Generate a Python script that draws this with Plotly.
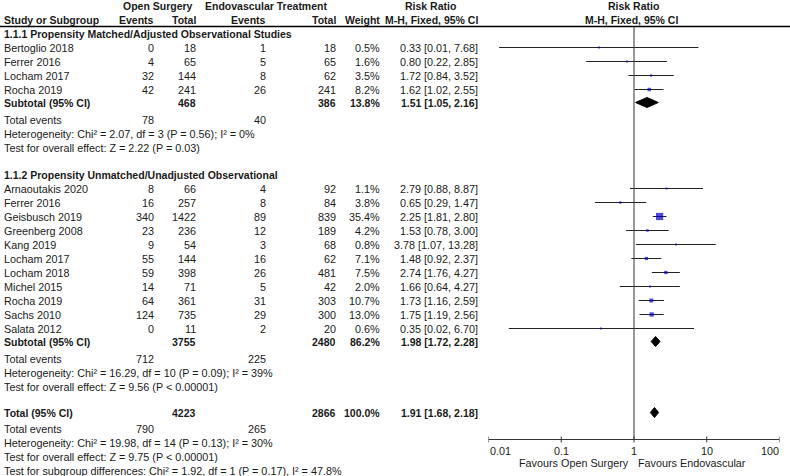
import numpy as np
import plotly.graph_objects as go

# ---- data ----
g1_title = "1.1.1 Propensity Matched/Adjusted Observational Studies"
g1_names = ["Bertoglio 2018", "Ferrer 2016", "Locham 2017", "Rocha 2019"]
g1_open_events = [0, 4, 32, 42]
g1_open_total = [18, 65, 144, 241]
g1_endo_events = [1, 5, 8, 26]
g1_endo_total = [18, 65, 62, 241]
g1_weight = [0.5, 1.6, 3.5, 8.2]
g1_rr = [0.33, 0.80, 1.72, 1.62]
g1_lo = [0.014, 0.22, 0.84, 1.02]
g1_hi = [7.68, 2.85, 3.52, 2.55]

g2_title = "1.1.2 Propensity Unmatched/Unadjusted Observational"
g2_names = ["Arnaoutakis 2020", "Ferrer 2016", "Geisbusch 2019", "Greenberg 2008", "Kang 2019",
            "Locham 2017", "Locham 2018", "Michel 2015", "Rocha 2019", "Sachs 2010", "Salata 2012"]
g2_open_events = [8, 16, 340, 23, 9, 55, 59, 14, 64, 124, 0]
g2_open_total = [66, 257, 1422, 236, 54, 144, 398, 71, 361, 735, 11]
g2_endo_events = [4, 8, 89, 12, 3, 16, 26, 5, 31, 29, 2]
g2_endo_total = [92, 84, 839, 189, 68, 62, 481, 42, 303, 300, 20]
g2_weight = [1.1, 3.8, 35.4, 4.2, 0.8, 7.1, 7.5, 2.0, 10.7, 13.0, 0.6]
g2_rr = [2.79, 0.65, 2.25, 1.53, 3.78, 1.48, 2.74, 1.66, 1.73, 1.75, 0.35]
g2_lo = [0.88, 0.29, 1.81, 0.78, 1.07, 0.92, 1.76, 0.64, 1.16, 1.19, 0.019]
g2_hi = [8.87, 1.47, 2.80, 3.00, 13.28, 2.37, 4.27, 4.27, 2.59, 2.56, 6.70]

# subtotal / total: open total, endo total, weight, rr, lo, hi, open events, endo events
sub1 = [468, 386, 13.8, 1.51, 1.05, 2.16, 78, 40]
sub2 = [3755, 2480, 86.2, 1.98, 1.72, 2.28, 712, 225]
overall = [4223, 2866, 100.0, 1.91, 1.68, 2.18, 790, 265]

sub1_stats = ["Heterogeneity: Chi\u00b2 = 2.07, df = 3 (P = 0.56); I\u00b2 = 0%",
              "Test for overall effect: Z = 2.22 (P = 0.03)"]
sub2_stats = ["Heterogeneity: Chi\u00b2 = 16.29, df = 10 (P = 0.09); I\u00b2 = 39%",
              "Test for overall effect: Z = 9.56 (P < 0.00001)"]
overall_stats = ["Heterogeneity: Chi\u00b2 = 19.98, df = 14 (P = 0.13); I\u00b2 = 30%",
                 "Test for overall effect: Z = 9.75 (P < 0.00001)",
                 "Test for subgroup differences: Chi\u00b2 = 1.92, df = 1 (P = 0.17), I\u00b2 = 47.8%"]

axis_ticks = [0.01, 0.1, 1, 10, 100]
axis_ticklabels = ["0.01", "0.1", "1", "10", "100"]
favours_left = "Favours Open Surgery"
favours_right = "Favours Endovascular"

# ---- layout (pixel coordinates) ----
W, H = 790, 476
FONT = "Arial, Liberation Sans, sans-serif"
TXT = "#1a1a1a"
NAME_X, OPEN_EV, OPEN_TOT, ENDO_EV, ENDO_TOT, WEIGHT, RR_X = 3, 155, 197, 267, 337, 381, 479
FOREST_L, FOREST_R = 488.5, 779.5
STEP = 14

annots = []


def txt(x, y, s, anchor="right", bold=False, ref="paper"):
    annots.append(dict(x=x / W if ref == "paper" else x, y=y, xref=ref, yref="y",
                       text="<b>%s</b>" % s if bold else s, showarrow=False,
                       xanchor=anchor, yanchor="middle", borderpad=0,
                       font=dict(family=FONT, size=10.5 if bold else 10.8, color=TXT)))


fig = go.Figure()

# header
txt(158, 5, "Open Surgery", "center", True)
txt(266, 5, "Endovascular Treatment", "center", True)
txt(430, 5, "Risk Ratio", "center", True)
txt(633, 5, "Risk Ratio", "center", True)
txt(NAME_X, 19, "Study or Subgroup", "left", True)
txt(OPEN_EV, 19, "Events", bold=True)
txt(OPEN_TOT, 19, "Total", bold=True)
txt(ENDO_EV, 19, "Events", bold=True)
txt(ENDO_TOT, 19, "Total", bold=True)
txt(WEIGHT, 19, "Weight", bold=True)
txt(RR_X, 19, "M-H, Fixed, 95% CI", bold=True)
txt(631, 19, "M-H, Fixed, 95% CI", "center", True)

ci_x, ci_y, sq_x, sq_y, sq_s = [], [], [], [], []


def diamond(y, s):
    fig.add_trace(go.Scatter(x=[s[4], s[3], s[5], s[3], s[4]], y=[y, y - 5, y, y + 5, y],
                             xaxis="x2", mode="lines", fill="toself", fillcolor="black",
                             line=dict(color="black", width=1), hoverinfo="skip"))


def group(y, title, names, oe, ot, ee, et, w, rr, lo, hi, sub, stats):
    txt(NAME_X, y, title, "left", True)
    for i in range(len(names)):
        y += STEP
        txt(NAME_X, y, names[i], "left")
        txt(OPEN_EV, y, str(oe[i]))
        txt(OPEN_TOT, y, str(ot[i]))
        txt(ENDO_EV, y, str(ee[i]))
        txt(ENDO_TOT, y, str(et[i]))
        txt(WEIGHT, y, "%.1f%%" % w[i])
        txt(RR_X, y, "%.2f [%.2f, %.2f]" % (rr[i], lo[i], hi[i]))
        ci_x.extend([lo[i], hi[i], None])
        ci_y.extend([y, y, None])
        sq_x.append(rr[i])
        sq_y.append(y)
        sq_s.append(max(2.0, 7.2 * np.sqrt(w[i] / 35.4)))
    y += 13
    txt(NAME_X, y, "Subtotal (95% CI)", "left", True)
    txt(OPEN_TOT, y, str(sub[0]), bold=True)
    txt(ENDO_TOT, y, str(sub[1]), bold=True)
    txt(WEIGHT, y, "%.1f%%" % sub[2], bold=True)
    txt(RR_X, y, "%.2f [%.2f, %.2f]" % (sub[3], sub[4], sub[5]), bold=True)
    diamond(y, sub)
    y += 17
    txt(NAME_X, y, "Total events", "left")
    txt(OPEN_EV, y, str(sub[6]))
    txt(ENDO_EV, y, str(sub[7]))
    for s in stats:
        y += STEP
        txt(NAME_X, y, s, "left")
    return y


y = group(33, g1_title, g1_names, g1_open_events, g1_open_total, g1_endo_events, g1_endo_total,
          g1_weight, g1_rr, g1_lo, g1_hi, sub1, sub1_stats)
y = group(y + 27, g2_title, g2_names, g2_open_events, g2_open_total, g2_endo_events, g2_endo_total,
          g2_weight, g2_rr, g2_lo, g2_hi, sub2, sub2_stats)

y += 26
txt(NAME_X, y, "Total (95% CI)", "left", True)
txt(OPEN_TOT, y, str(overall[0]), bold=True)
txt(ENDO_TOT, y, str(overall[1]), bold=True)
txt(WEIGHT, y, "%.1f%%" % overall[2], bold=True)
txt(RR_X, y, "%.2f [%.2f, %.2f]" % (overall[3], overall[4], overall[5]), bold=True)
diamond(y, overall)
y += 16
txt(NAME_X, y, "Total events", "left")
txt(OPEN_EV, y, str(overall[6]))
txt(ENDO_EV, y, str(overall[7]))
for s in overall_stats:
    y += STEP
    txt(NAME_X, y, s, "left")

# study CI lines and weighted squares
fig.add_trace(go.Scatter(x=ci_x, y=ci_y, xaxis="x2", mode="lines",
                         line=dict(color="#222222", width=1), hoverinfo="skip"))
fig.add_trace(go.Scatter(x=sq_x, y=sq_y, xaxis="x2", mode="markers",
                         marker=dict(symbol="square", size=sq_s, color="#0000c8", line=dict(width=0))))

# line of no effect and bottom axis
AXIS_Y = 439
fig.add_trace(go.Scatter(x=[1, 1], y=[26, AXIS_Y], xaxis="x2", mode="lines",
                         line=dict(color="#333333", width=1), hoverinfo="skip"))
tx, ty = [axis_ticks[0], axis_ticks[-1], None], [AXIS_Y, AXIS_Y, None]
for t in axis_ticks:
    tx.extend([t, t, None])
    ty.extend([AXIS_Y - 3, AXIS_Y + 3, None])
fig.add_trace(go.Scatter(x=tx, y=ty, xaxis="x2", mode="lines",
                         line=dict(color="#333333", width=1), hoverinfo="skip"))
for i, (t, lab) in enumerate(zip(axis_ticks, axis_ticklabels)):
    anchor = "left" if i == 0 else ("right" if i == len(axis_ticks) - 1 else "center")
    txt(np.log10(t), 450, lab, anchor, ref="x2")
txt(np.log10(0.88), 462, favours_left, "right", ref="x2")
txt(np.log10(1.1), 462, favours_right, "left", ref="x2")

# header rule
fig.add_shape(type="line", xref="paper", yref="y", x0=0, x1=1, y0=26, y1=26,
              line=dict(color="black", width=1.3))

fig.update_layout(
    width=W, height=H, margin=dict(l=0, r=0, t=0, b=0),
    paper_bgcolor="white", plot_bgcolor="white", showlegend=False,
    annotations=annots,
    xaxis=dict(range=[0, W], visible=False, domain=[0, 1]),
    xaxis2=dict(type="log", range=[-2, 2], visible=False, anchor="y",
                domain=[FOREST_L / W, FOREST_R / W]),
    yaxis=dict(range=[H - 0.5, -0.5], visible=False, domain=[0, 1]),
)
fig.write_html("out.html", config={"displayModeBar": False},
               post_script="document.body.style.margin='0px';document.body.style.overflow='hidden';")
